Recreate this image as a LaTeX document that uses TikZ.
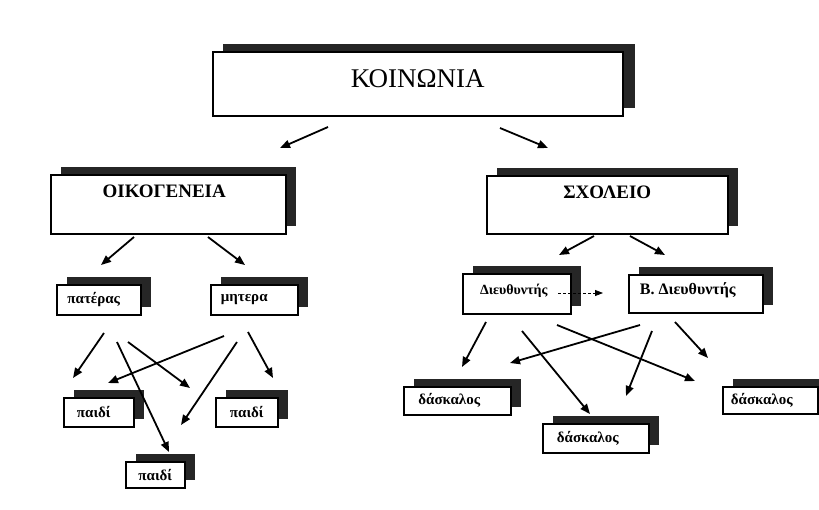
\documentclass[tikz,border=0pt]{standalone}
\usepackage{fontspec}
\setmainfont{Liberation Serif}
\usetikzlibrary{arrows.meta,shadows}
\definecolor{shadowc}{HTML}{262626}
\begin{document}
\begin{tikzpicture}[x=1pt,y=-1pt,
  card/.style={draw=black, line width=1.5pt, fill=white, inner sep=0pt, anchor=north west,
    general shadow={fill=shadowc, shadow xshift=10pt, shadow yshift=8pt}},
  bigcard/.style={card, font=\bfseries\fontsize{19}{19}\selectfont},
  smallcard/.style={card, font=\bfseries\fontsize{15}{15}\selectfont},
  tshift/.style={execute at end node={\hspace{#1}}},
  conn/.style={line width=1.8pt, -{Triangle[length=10pt,width=8pt]}},
  dconn/.style={line width=0.8pt, dash pattern=on 3pt off 2pt, -{Triangle[length=8pt,width=6pt]}}
]
\useasboundingbox (0,0) rectangle (819,509);

% boxes
\node[card, general shadow={fill=shadowc, shadow xshift=12pt, shadow yshift=8pt},
  font=\fontsize{27}{27}\selectfont, minimum width=410pt, text height=36pt, text depth=28pt] (kn) at (212,51) {ΚΟΙΝΩΝΙΑ};
\node[bigcard, minimum width=235pt, text height=23pt, text depth=36pt, tshift=8pt] (oik) at (50,174) {ΟΙΚΟΓΕΝΕΙΑ};
\node[bigcard, minimum width=241pt, text height=23pt, text depth=35pt] (sx) at (486,175) {ΣΧΟΛΕΙΟ};

\node[smallcard, minimum width=84pt, minimum height=30pt, tshift=10pt] (pat) at (56,284) {πατέρας};
\node[smallcard, minimum width=87pt, minimum height=30pt, tshift=20pt] (mit) at (210,284) {μητερα};
\node[smallcard, font=\bfseries\fontsize{14}{14}\selectfont, minimum width=108pt, text height=21pt, text depth=19pt, tshift=6pt] (dir) at (462,273) {Διευθυντής};
\node[smallcard, font=\bfseries\fontsize{16}{16}\selectfont, minimum width=134pt, text height=20pt, text depth=18pt, tshift=16pt] (vdir) at (628,274) {Β. Διευθυντής};

\node[smallcard, minimum width=70pt, minimum height=29pt, tshift=10pt] (p1) at (63,397) {παιδί};
\node[smallcard, minimum width=62pt, minimum height=29pt] (p2) at (215,397) {παιδί};
\node[smallcard, minimum width=59pt, minimum height=26pt] (p3) at (125,461) {παιδί};

\node[smallcard, minimum width=107pt, minimum height=28pt, tshift=16pt] (d1) at (403,386) {δάσκαλος};
\node[smallcard, minimum width=106pt, minimum height=29pt, tshift=16pt] (d2) at (542,423) {δάσκαλος};
\node[smallcard, minimum width=95pt, minimum height=27pt, tshift=17pt] (d3) at (722,386) {δάσκαλος};

% connector end points
\coordinate (kna) at (328,127); \coordinate (knb) at (280,148);
\coordinate (knc) at (500,128); \coordinate (knd) at (548,148);
\coordinate (oika) at (134,237); \coordinate (oikb) at (101,265);
\coordinate (oikc) at (208,237); \coordinate (oikd) at (245,265);
\coordinate (sxa) at (594,236); \coordinate (sxb) at (559,255);
\coordinate (sxc) at (630,236); \coordinate (sxd) at (665,255);
\coordinate (pata) at (104,333); \coordinate (patb) at (73,378);
\coordinate (patc) at (117,342); \coordinate (patd) at (169,452);
\coordinate (pate) at (128,342); \coordinate (patf) at (190,388);
\coordinate (mita) at (224,336); \coordinate (mitb) at (108,383);
\coordinate (mitc) at (237,342); \coordinate (mitd) at (181,425);
\coordinate (mite) at (248,332); \coordinate (mitf) at (273,378);
\coordinate (dira) at (486,322); \coordinate (dirb) at (462,367);
\coordinate (dirc) at (522,331); \coordinate (dird) at (590,414);
\coordinate (dire) at (557,325); \coordinate (dirf) at (695,381);
\coordinate (vdira) at (640,325); \coordinate (vdirb) at (510,363);
\coordinate (vdirc) at (652,331); \coordinate (vdird) at (626,396);
\coordinate (vdire) at (675,322); \coordinate (vdirf) at (708,358);
\coordinate (dash1) at (558,293); \coordinate (dash2) at (603,293);

% connectors
\draw[conn] (kna) -- (knb);
\draw[conn] (knc) -- (knd);
\draw[conn] (oika) -- (oikb);
\draw[conn] (oikc) -- (oikd);
\draw[conn] (sxa) -- (sxb);
\draw[conn] (sxc) -- (sxd);
\draw[conn] (pata) -- (patb);
\draw[conn] (patc) -- (patd);
\draw[conn] (pate) -- (patf);
\draw[conn] (mita) -- (mitb);
\draw[conn] (mitc) -- (mitd);
\draw[conn] (mite) -- (mitf);
\draw[conn] (dira) -- (dirb);
\draw[conn] (dirc) -- (dird);
\draw[conn] (dire) -- (dirf);
\draw[conn] (vdira) -- (vdirb);
\draw[conn] (vdirc) -- (vdird);
\draw[conn] (vdire) -- (vdirf);
\draw[dconn] (dash1) -- (dash2);
\end{tikzpicture}
\end{document}
